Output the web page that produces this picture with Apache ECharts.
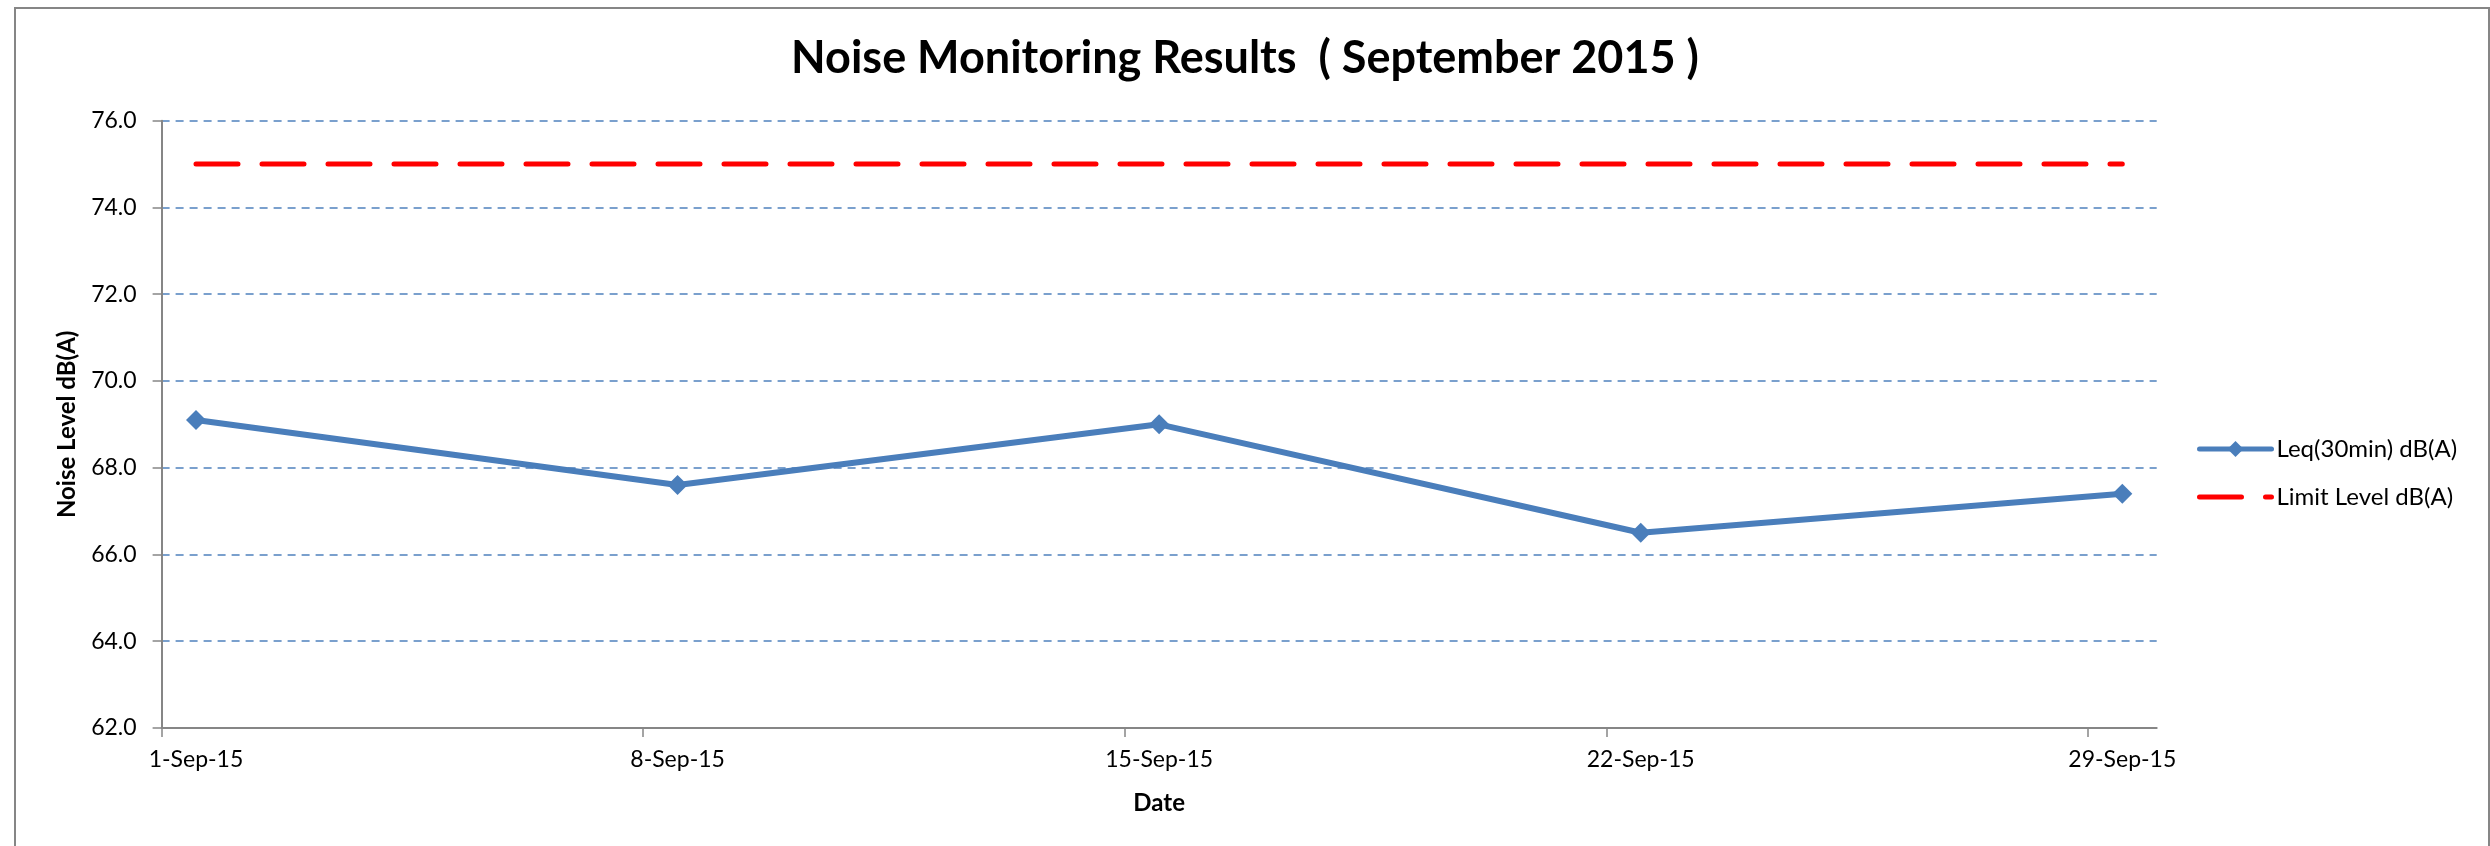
<!DOCTYPE html>
<html>
<head>
<meta charset="utf-8">
<title>Noise Monitoring Results (September 2015)</title>
<script src="https://cdn.jsdelivr.net/npm/echarts@6/dist/echarts.min.js"></script>
<style>
  html, body { margin: 0; padding: 0; background: #ffffff; }
  #chart { width: 2490px; height: 846px; }
</style>
</head>
<body>
<div id="chart"></div>
<script>
// Monitoring dates (day-month-year) and measured levels
const dates = ['1-Sep-15', '8-Sep-15', '15-Sep-15', '22-Sep-15', '29-Sep-15'];
const leq30min = [69.1, 67.6, 69.0, 66.5, 67.4];
const limitLevel = [75, 75, 75, 75, 75];

// Axis settings
const yMin = 62;
const yMax = 76;
const yStep = 2;
const monthStartDay = 1;
const monthEndDay = 30;

const FONT = 'Lato, "Open Sans", sans-serif';
const BLUE = '#4A7EBB';
const RED = '#FF0000';
const GREY = '#868686';
const LIMIT_DASH = [42, 24];

// Day of month for each date label; readings sit in the middle of their day
const dayOf = d => parseInt(d.split('-')[0], 10);
const tickDays = dates.map(dayOf);
const labelDays = tickDays.map(d => d + 0.5);
const leqData = dates.map((d, i) => [dayOf(d) + 0.5, leq30min[i]]);
const limitData = dates.map((d, i) => [dayOf(d) + 0.5, limitLevel[i]]);

const chart = echarts.init(document.getElementById('chart'), null, { renderer: 'canvas' });

chart.setOption({
  backgroundColor: '#ffffff',
  animation: false,
  title: {
    text: 'Noise Monitoring Results  ( September 2015 )',
    left: 'center',
    top: 36,
    padding: 0,
    textStyle: { fontFamily: FONT, fontWeight: 'bold', fontSize: 45, color: '#000' }
  },
  graphic: [{
    type: 'rect',
    shape: { x: 15, y: 8, width: 2474, height: 900 },
    style: { fill: 'none', stroke: GREY, lineWidth: 2 },
    silent: true,
    z: -1
  }],
  legend: {
    orient: 'vertical',
    left: 2197,
    top: 437,
    padding: 0,
    itemWidth: 72,
    itemHeight: 20,
    itemGap: 24,
    textStyle: { fontFamily: FONT, fontSize: 24, color: '#000', lineHeight: 24 },
    data: [
      {
        name: 'Leq(30min) dB(A)',
        lineStyle: { color: BLUE, width: 5, cap: 'round' }
      },
      {
        name: 'Limit Level dB(A)',
        itemStyle: { opacity: 0 },
        lineStyle: { color: RED, width: 5, type: LIMIT_DASH, cap: 'round' }
      }
    ]
  },
  grid: { left: 161.6, right: 333.3, top: 120.7, bottom: 118, containLabel: false },
  xAxis: {
    type: 'value',
    min: monthStartDay,
    max: monthEndDay,
    name: 'Date',
    nameLocation: 'middle',
    nameGap: 63,
    nameTextStyle: { fontFamily: FONT, fontWeight: 'bold', fontSize: 24, color: '#000' },
    axisLine: { show: true, lineStyle: { color: GREY, width: 2 } },
    axisTick: { show: true, length: 9, lineStyle: { color: GREY, width: 1.5 }, customValues: tickDays },
    axisLabel: {
      margin: 20,
      fontFamily: FONT, fontSize: 23, color: '#000',
      customValues: labelDays,
      formatter: v => {
        const i = tickDays.indexOf(Math.floor(v));
        return i >= 0 ? dates[i] : '';
      }
    },
    splitLine: { show: false }
  },
  yAxis: {
    type: 'value',
    min: yMin,
    max: yMax,
    interval: yStep,
    name: 'Noise Level dB(A)',
    nameLocation: 'middle',
    nameGap: 82,
    nameTextStyle: { fontFamily: FONT, fontWeight: 'bold', fontSize: 24, color: '#000' },
    axisLine: { show: true, lineStyle: { color: GREY, width: 2 } },
    axisTick: { show: true, length: 9, lineStyle: { color: GREY, width: 1.5 } },
    axisLabel: {
      margin: 25,
      fontFamily: FONT, fontSize: 23, color: '#000',
      formatter: v => v.toFixed(1)
    },
    splitLine: { show: true, lineStyle: { color: '#4F81BD', width: 1.5, type: [8, 6] } }
  },
  series: [
    {
      name: 'Leq(30min) dB(A)',
      type: 'line',
      data: leqData,
      symbol: 'diamond',
      symbolSize: 20,
      showSymbol: true,
      color: BLUE,
      lineStyle: { color: BLUE, width: 6 },
      itemStyle: { color: BLUE },
      z: 3
    },
    {
      name: 'Limit Level dB(A)',
      type: 'line',
      data: limitData,
      symbol: 'none',
      color: RED,
      lineStyle: { color: RED, width: 5, type: LIMIT_DASH, cap: 'round' },
      z: 2
    }
  ]
});
</script>
</body>
</html>
